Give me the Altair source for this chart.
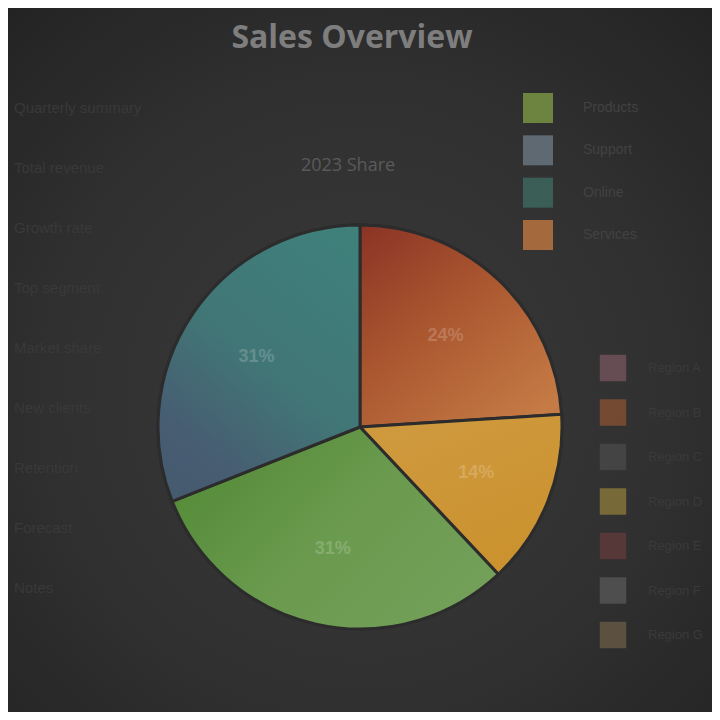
import math
import altair as alt
import pandas as pd

# ---------------- data ----------------
title_text = "Sales Overview"
subtitle_text = "2023 Share"

categories = ["Services", "Licensing", "Products", "Support"]
shares = [24, 14, 31, 31]
slice_colors = ["#b05c38", "#cd9a3b", "#6a9a4e", "#43717a"]
slice_labels = ["24%", "14%", "31%", "31%"]

legend_top_labels = ["Products", "Support", "Online", "Services"]
legend_top_colors = ["#7c9a44", "#6b7882", "#3d6a60", "#c0773f"]

legend_side_labels = ["Region A", "Region B", "Region C", "Region D", "Region E", "Region F", "Region G"]
legend_side_colors = ["#6c5058", "#7c4c32", "#464646", "#80703a", "#5c3a3a", "#525252", "#625444"]

left_notes = ["Quarterly summary", "Total revenue", "Growth rate", "Top segment",
              "Market share", "New clients", "Retention", "Forecast", "Notes"]

# ---------------- charts ----------------
W, H = 704, 704
CX, CY, R = 352, 419, 202

bg = alt.Chart(pd.DataFrame({"k": [0]})).mark_rect(
    fill=alt.RadialGradient(
        gradient="radial", x1=0.5, y1=0.55, x2=0.5, y2=0.55, r1=0, r2=0.75,
        stops=[alt.GradientStop(color="#393939", offset=0),
               alt.GradientStop(color="#313131", offset=0.55),
               alt.GradientStop(color="#232323", offset=1)])
).encode(x=alt.value(0), x2=alt.value(W), y=alt.value(0), y2=alt.value(H))

pie_df = pd.DataFrame({"category": categories, "share": shares,
                       "order": list(range(len(categories))), "label": slice_labels})

base = alt.Chart(pie_df).transform_window(
    cum="sum(share)", sort=[alt.SortField("order")], frame=[None, 0]
).transform_calculate(start="datum.cum - datum.share", mid="datum.cum - datum.share / 2")

theta_scale = alt.Scale(domain=[0, 100], range=[0, 2 * math.pi])

arcs = base.mark_arc(outerRadius=R, stroke="#2c2c2c", strokeWidth=3).encode(
    theta=alt.Theta("start:Q", stack=None, scale=theta_scale),
    theta2="cum:Q",
    color=alt.Color("category:N", scale=alt.Scale(domain=categories, range=slice_colors), legend=None),
    x=alt.value(CX), y=alt.value(CY),
)

def grad_arc(idx, stops, x1, y1, x2, y2):
    return base.transform_filter(f"datum.order == {idx}").mark_arc(
        outerRadius=R, stroke="#2c2c2c", strokeWidth=3,
        fill=alt.LinearGradient(gradient="linear", x1=x1, y1=y1, x2=x2, y2=y2,
                                stops=[alt.GradientStop(color=c, offset=o) for o, c in stops])
    ).encode(theta=alt.Theta("start:Q", stack=None, scale=theta_scale), theta2="cum:Q",
             x=alt.value(CX), y=alt.value(CY))

g_orange = grad_arc(0, [(0, "#8a3326"), (0.45, "#a9552f"), (1, "#c57b45")], 0, 0, 0.8, 1)
g_yellow = grad_arc(1, [(0, "#cf9a40"), (1, "#cb922f")], 0, 0, 0.5, 1)
g_green = grad_arc(2, [(0, "#538a37"), (0.5, "#6a9a4e"), (1, "#74a05a")], 0, 0.2, 1, 0.8)
g_teal = grad_arc(3, [(0, "#3f807b"), (0.5, "#417676"), (0.85, "#475d72"), (1, "#465a70")], 0.8, 0, 0.2, 1)

slice_text = base.mark_text(fontSize=18, fontWeight="bold", color="#ffffff", opacity=0.18).encode(
    theta=alt.Theta("mid:Q", stack=None, scale=theta_scale),
    radius=alt.value(125),
    text="label:N",
    x=alt.value(CX), y=alt.value(CY),
)

title = alt.Chart(pd.DataFrame({"t": [title_text]})).mark_text(
    fontSize=32, fontWeight="bold", color="#7e7e7e", font="Open Sans"
).encode(text="t:N", x=alt.value(344), y=alt.value(30))

subtitle = alt.Chart(pd.DataFrame({"t": [subtitle_text]})).mark_text(
    fontSize=18, color="#5a5a5a", font="Open Sans"
).encode(text="t:N", x=alt.value(340), y=alt.value(158))

top_df = pd.DataFrame({"label": legend_top_labels, "color": legend_top_colors})
top_y = alt.Y("label:N", sort=legend_top_labels, axis=None, scale=alt.Scale(range=[100, 227], padding=0))
top_sw = alt.Chart(top_df).mark_square(size=900, opacity=0.8).encode(
    x=alt.value(530), y=top_y,
    color=alt.Color("color:N", scale=None, legend=None))
top_tx = alt.Chart(top_df).mark_text(align="left", fontSize=14, color="#424242").encode(
    x=alt.value(575), y=top_y, text="label:N")

side_df = pd.DataFrame({"label": legend_side_labels, "color": legend_side_colors})
side_y = alt.Y("label:N", sort=legend_side_labels, axis=None, scale=alt.Scale(range=[360, 627], padding=0))
side_sw = alt.Chart(side_df).mark_square(size=700, opacity=0.9).encode(
    x=alt.value(605), y=side_y,
    color=alt.Color("color:N", scale=None, legend=None))
side_tx = alt.Chart(side_df).mark_text(align="left", fontSize=13, color="#3a3a3a").encode(
    x=alt.value(640), y=side_y, text="label:N")

notes_df = pd.DataFrame({"note": left_notes})
notes = alt.Chart(notes_df).mark_text(align="left", fontSize=15, color="#393939").encode(
    x=alt.value(6),
    y=alt.Y("note:N", sort=left_notes, axis=None, scale=alt.Scale(range=[100, 580], padding=0)),
    text="note:N")

chart = alt.layer(
    bg, arcs, g_orange, g_yellow, g_green, g_teal, slice_text,
    title, subtitle, top_sw, top_tx, side_sw, side_tx, notes
).resolve_scale(
    x="independent", y="independent", color="independent", theta="independent"
).properties(
    width=W, height=H, padding=0, autosize=alt.AutoSizeParams(type="none"),
    background="#2b2b2b"
).configure_view(stroke=None)

chart.save("out.html", embed_options={"renderer": "svg", "actions": False})
